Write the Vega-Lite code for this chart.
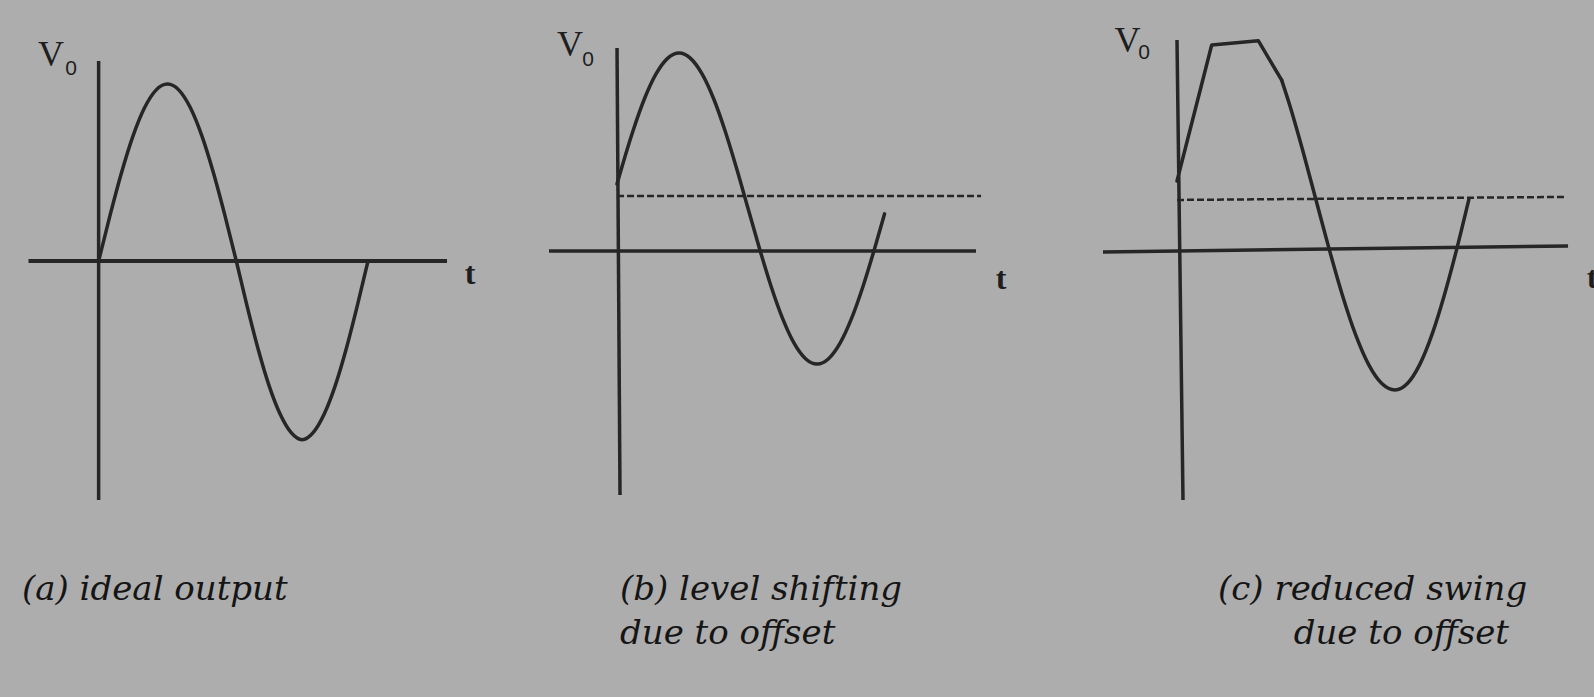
{
  "$schema": "https://vega.github.io/schema/vega-lite/v6.json",
  "background": "#adadad",
  "padding": {"left": 0, "top": 0, "right": 0, "bottom": 60},
  "bounds": "flush",
  "spacing": 0,
  "config": {
    "view": {"stroke": null},
    "line": {"color": "#262626", "strokeWidth": 3.5, "strokeCap": "round", "strokeJoin": "round"},
    "rule": {"color": "#262626", "strokeWidth": 3.5},
    "text": {"color": "#1e1e1e", "align": "center", "baseline": "middle"}
  },
  "datasets": {
    "ideal": [
      {"t": 0, "v": 0}, {"t": 15.33, "v": 0.259}, {"t": 30.67, "v": 0.5}, {"t": 46, "v": 0.707},
      {"t": 61.33, "v": 0.866}, {"t": 76.67, "v": 0.966}, {"t": 92, "v": 1.0}, {"t": 107.33, "v": 0.966},
      {"t": 122.67, "v": 0.866}, {"t": 138, "v": 0.707}, {"t": 153.33, "v": 0.5}, {"t": 168.67, "v": 0.259},
      {"t": 184, "v": 0}, {"t": 198.67, "v": -0.259}, {"t": 213.33, "v": -0.5}, {"t": 228, "v": -0.707},
      {"t": 242.67, "v": -0.866}, {"t": 257.33, "v": -0.97}, {"t": 272, "v": -1.01}, {"t": 286.67, "v": -0.97},
      {"t": 301.33, "v": -0.866}, {"t": 316, "v": -0.707}, {"t": 330.67, "v": -0.5}, {"t": 345.33, "v": -0.259},
      {"t": 360, "v": 0}
    ],
    "shifted": [
      {"t": 0, "v": 0.379}, {"t": 5.9, "v": 0.468}, {"t": 20.9, "v": 0.68}, {"t": 35.9, "v": 0.862},
      {"t": 50.9, "v": 1.001}, {"t": 65.9, "v": 1.089}, {"t": 80.9, "v": 1.119}, {"t": 95.9, "v": 1.089},
      {"t": 110.9, "v": 1.001}, {"t": 125.9, "v": 0.862}, {"t": 140.9, "v": 0.68}, {"t": 155.9, "v": 0.468},
      {"t": 170.9, "v": 0.24}, {"t": 185.9, "v": 0.013}, {"t": 200.9, "v": -0.199}, {"t": 215.9, "v": -0.381},
      {"t": 230.9, "v": -0.521}, {"t": 245.9, "v": -0.609}, {"t": 260.9, "v": -0.639}, {"t": 275.9, "v": -0.609},
      {"t": 290.9, "v": -0.521}, {"t": 305.9, "v": -0.381}, {"t": 320.9, "v": -0.199}, {"t": 335.9, "v": 0.013},
      {"t": 348.9, "v": 0.21}
    ],
    "reduced": [
      {"part": "clipped", "t": 0, "v": 0.39},
      {"part": "clipped", "t": 48.2, "v": 1.159},
      {"part": "clipped", "t": 112.9, "v": 1.183},
      {"part": "clipped", "t": 145.4, "v": 0.96},
      {"part": "swing", "t": 145.4, "v": 0.96},
      {"part": "swing", "t": 156.49, "v": 0.82},
      {"part": "swing", "t": 174.77, "v": 0.561},
      {"part": "swing", "t": 193.06, "v": 0.283},
      {"part": "swing", "t": 211.35, "v": 0.005},
      {"part": "swing", "t": 229.63, "v": -0.254},
      {"part": "swing", "t": 247.92, "v": -0.477},
      {"part": "swing", "t": 266.21, "v": -0.648},
      {"part": "swing", "t": 284.49, "v": -0.755},
      {"part": "swing", "t": 302.78, "v": -0.791},
      {"part": "swing", "t": 319.93, "v": -0.755},
      {"part": "swing", "t": 337.07, "v": -0.648},
      {"part": "swing", "t": 354.22, "v": -0.477},
      {"part": "swing", "t": 371.37, "v": -0.254},
      {"part": "swing", "t": 388.5, "v": 0.005},
      {"part": "swing", "t": 405.65, "v": 0.29}
    ]
  },
  "hconcat": [
    {
      "width": 530,
      "height": 560,
      "title": {"text": "(a) ideal output", "orient": "bottom", "anchor": "start", "baseline": "alphabetic", "offset": 40, "dx": 22, "font": "DejaVu Serif", "fontStyle": "italic", "fontWeight": "normal", "fontSize": 34, "lineHeight": 44, "color": "#151515"},
      "layer": [
        {
          "data": {"values": [{}]},
          "mark": {"type": "rule", "strokeWidth": 4},
          "encoding": {
            "x": {"datum": -93.7, "type": "quantitative", "scale": {"domain": [-131.8, 576.5], "nice": false, "zero": false}, "axis": null},
            "x2": {"datum": 465.6},
            "y": {"datum": 0, "type": "quantitative", "scale": {"domain": [-1.6902, 1.4754], "nice": false, "zero": false}, "axis": null}
          }
        },
        {
          "data": {"values": [{}]},
          "mark": {"type": "rule"},
          "encoding": {
            "x": {"datum": 0, "type": "quantitative", "scale": {"domain": [-131.8, 576.5], "nice": false, "zero": false}, "axis": null},
            "y": {"datum": 1.131, "type": "quantitative", "scale": {"domain": [-1.6902, 1.4754], "nice": false, "zero": false}, "axis": null},
            "y2": {"datum": -1.351}
          }
        },
        {
          "data": {"name": "ideal"},
          "mark": {"type": "line", "interpolate": "monotone"},
          "encoding": {
            "x": {"field": "t", "type": "quantitative", "scale": {"domain": [-131.8, 576.5], "nice": false, "zero": false}, "axis": null},
            "y": {"field": "v", "type": "quantitative", "scale": {"domain": [-1.6902, 1.4754], "nice": false, "zero": false}, "axis": null}
          }
        },
        {
          "data": {"values": [{}]},
          "mark": {"type": "text", "text": "V", "font": "Liberation Serif", "fontSize": 36},
          "encoding": {
            "x": {"datum": -63.6, "type": "quantitative", "scale": {"domain": [-131.8, 576.5], "nice": false, "zero": false}, "axis": null},
            "y": {"datum": 1.164, "type": "quantitative", "scale": {"domain": [-1.6902, 1.4754], "nice": false, "zero": false}, "axis": null}
          }
        },
        {
          "data": {"values": [{}]},
          "mark": {"type": "text", "text": "0", "font": "Liberation Sans", "fontSize": 21},
          "encoding": {
            "x": {"datum": -36.9, "type": "quantitative", "scale": {"domain": [-131.8, 576.5], "nice": false, "zero": false}, "axis": null},
            "y": {"datum": 1.085, "type": "quantitative", "scale": {"domain": [-1.6902, 1.4754], "nice": false, "zero": false}, "axis": null}
          }
        },
        {
          "data": {"values": [{}]},
          "mark": {"type": "text", "text": "t", "font": "Liberation Serif", "fontSize": 32, "fontWeight": "bold"},
          "encoding": {
            "x": {"datum": 496.3, "type": "quantitative", "scale": {"domain": [-131.8, 576.5], "nice": false, "zero": false}, "axis": null},
            "y": {"datum": -0.073, "type": "quantitative", "scale": {"domain": [-1.6902, 1.4754], "nice": false, "zero": false}, "axis": null}
          }
        }
      ]
    },
    {
      "width": 540,
      "height": 560,
      "title": {"text": ["(b) level shifting", "due to offset"], "orient": "bottom", "anchor": "start", "baseline": "alphabetic", "offset": 40, "dx": 90, "font": "DejaVu Serif", "fontStyle": "italic", "fontWeight": "normal", "fontSize": 34, "lineHeight": 44, "color": "#151515"},
      "layer": [
        {
          "data": {"values": [{}]},
          "mark": {"type": "rule"},
          "encoding": {
            "x": {"datum": -88.7, "type": "quantitative", "scale": {"domain": [-113.5, 590.8], "nice": false, "zero": false}, "axis": null},
            "x2": {"datum": 468.2},
            "y": {"datum": 0, "type": "quantitative", "scale": {"domain": [-1.7468, 1.4189], "nice": false, "zero": false}, "axis": null}
          }
        },
        {
          "data": {"values": [{}]},
          "mark": {"type": "rule"},
          "encoding": {
            "x": {"datum": 0, "type": "quantitative", "scale": {"domain": [-113.5, 590.8], "nice": false, "zero": false}, "axis": null},
            "x2": {"datum": 3.9},
            "y": {"datum": 1.148, "type": "quantitative", "scale": {"domain": [-1.7468, 1.4189], "nice": false, "zero": false}, "axis": null},
            "y2": {"datum": -1.379}
          }
        },
        {
          "data": {"values": [{}]},
          "mark": {"type": "rule", "strokeWidth": 2.5, "strokeDash": [7, 3]},
          "encoding": {
            "x": {"datum": 0, "type": "quantitative", "scale": {"domain": [-113.5, 590.8], "nice": false, "zero": false}, "axis": null},
            "x2": {"datum": 474.8},
            "y": {"datum": 0.311, "type": "quantitative", "scale": {"domain": [-1.7468, 1.4189], "nice": false, "zero": false}, "axis": null}
          }
        },
        {
          "data": {"name": "shifted"},
          "mark": {"type": "line", "interpolate": "monotone"},
          "encoding": {
            "x": {"field": "t", "type": "quantitative", "scale": {"domain": [-113.5, 590.8], "nice": false, "zero": false}, "axis": null},
            "y": {"field": "v", "type": "quantitative", "scale": {"domain": [-1.7468, 1.4189], "nice": false, "zero": false}, "axis": null}
          }
        },
        {
          "data": {"values": [{}]},
          "mark": {"type": "text", "text": "V", "font": "Liberation Serif", "fontSize": 36},
          "encoding": {
            "x": {"datum": -61.3, "type": "quantitative", "scale": {"domain": [-113.5, 590.8], "nice": false, "zero": false}, "axis": null},
            "y": {"datum": 1.165, "type": "quantitative", "scale": {"domain": [-1.7468, 1.4189], "nice": false, "zero": false}, "axis": null}
          }
        },
        {
          "data": {"values": [{}]},
          "mark": {"type": "text", "text": "0", "font": "Liberation Sans", "fontSize": 21},
          "encoding": {
            "x": {"datum": -37.8, "type": "quantitative", "scale": {"domain": [-113.5, 590.8], "nice": false, "zero": false}, "axis": null},
            "y": {"datum": 1.08, "type": "quantitative", "scale": {"domain": [-1.7468, 1.4189], "nice": false, "zero": false}, "axis": null}
          }
        },
        {
          "data": {"values": [{}]},
          "mark": {"type": "text", "text": "t", "font": "Liberation Serif", "fontSize": 32, "fontWeight": "bold"},
          "encoding": {
            "x": {"datum": 500.8, "type": "quantitative", "scale": {"domain": [-113.5, 590.8], "nice": false, "zero": false}, "axis": null},
            "y": {"datum": -0.158, "type": "quantitative", "scale": {"domain": [-1.7468, 1.4189], "nice": false, "zero": false}, "axis": null}
          }
        }
      ]
    },
    {
      "width": 524,
      "height": 560,
      "title": {"text": ["(c) reduced swing", "\u200b\u00a0\u00a0\u00a0\u00a0\u00a0\u00a0\u00a0due to offset"], "orient": "bottom", "anchor": "start", "baseline": "alphabetic", "offset": 40, "dx": 148, "font": "DejaVu Serif", "fontStyle": "italic", "fontWeight": "normal", "fontSize": 34, "lineHeight": 44, "color": "#151515"},
      "layer": [
        {
          "data": {"values": [{}]},
          "mark": {"type": "rule"},
          "encoding": {
            "x": {"datum": -102.8, "type": "quantitative", "scale": {"domain": [-148.61, 579.17], "nice": false, "zero": false}, "axis": null},
            "x2": {"datum": 543.1},
            "y": {"datum": -0.011, "type": "quantitative", "scale": {"domain": [-1.7524, 1.4132], "nice": false, "zero": false}, "axis": null},
            "y2": {"datum": 0.023}
          }
        },
        {
          "data": {"values": [{}]},
          "mark": {"type": "rule"},
          "encoding": {
            "x": {"datum": 0, "type": "quantitative", "scale": {"domain": [-148.61, 579.17], "nice": false, "zero": false}, "axis": null},
            "x2": {"datum": 8.33},
            "y": {"datum": 1.187, "type": "quantitative", "scale": {"domain": [-1.7524, 1.4132], "nice": false, "zero": false}, "axis": null},
            "y2": {"datum": -1.413}
          }
        },
        {
          "data": {"values": [{}]},
          "mark": {"type": "rule", "strokeWidth": 2.5, "strokeDash": [7, 3]},
          "encoding": {
            "x": {"datum": 0, "type": "quantitative", "scale": {"domain": [-148.61, 579.17], "nice": false, "zero": false}, "axis": null},
            "x2": {"datum": 541.7},
            "y": {"datum": 0.283, "type": "quantitative", "scale": {"domain": [-1.7524, 1.4132], "nice": false, "zero": false}, "axis": null},
            "y2": {"datum": 0.3}
          }
        },
        {
          "data": {"name": "reduced"},
          "transform": [{"filter": "datum.part === 'clipped'"}],
          "mark": {"type": "line", "interpolate": "linear"},
          "encoding": {
            "x": {"field": "t", "type": "quantitative", "scale": {"domain": [-148.61, 579.17], "nice": false, "zero": false}, "axis": null},
            "y": {"field": "v", "type": "quantitative", "scale": {"domain": [-1.7524, 1.4132], "nice": false, "zero": false}, "axis": null}
          }
        },
        {
          "data": {"name": "reduced"},
          "transform": [{"filter": "datum.part === 'swing'"}],
          "mark": {"type": "line", "interpolate": "monotone"},
          "encoding": {
            "x": {"field": "t", "type": "quantitative", "scale": {"domain": [-148.61, 579.17], "nice": false, "zero": false}, "axis": null},
            "y": {"field": "v", "type": "quantitative", "scale": {"domain": [-1.7524, 1.4132], "nice": false, "zero": false}, "axis": null}
          }
        },
        {
          "data": {"values": [{}]},
          "mark": {"type": "text", "text": "V", "font": "Liberation Serif", "fontSize": 36},
          "encoding": {
            "x": {"datum": -68.75, "type": "quantitative", "scale": {"domain": [-148.61, 579.17], "nice": false, "zero": false}, "axis": null},
            "y": {"datum": 1.179, "type": "quantitative", "scale": {"domain": [-1.7524, 1.4132], "nice": false, "zero": false}, "axis": null}
          }
        },
        {
          "data": {"values": [{}]},
          "mark": {"type": "text", "text": "0", "font": "Liberation Sans", "fontSize": 21},
          "encoding": {
            "x": {"datum": -45.8, "type": "quantitative", "scale": {"domain": [-148.61, 579.17], "nice": false, "zero": false}, "axis": null},
            "y": {"datum": 1.114, "type": "quantitative", "scale": {"domain": [-1.7524, 1.4132], "nice": false, "zero": false}, "axis": null}
          }
        },
        {
          "data": {"values": [{}]},
          "mark": {"type": "text", "text": "t", "font": "Liberation Serif", "fontSize": 32, "fontWeight": "bold"},
          "encoding": {
            "x": {"datum": 576.4, "type": "quantitative", "scale": {"domain": [-148.61, 579.17], "nice": false, "zero": false}, "axis": null},
            "y": {"datum": -0.158, "type": "quantitative", "scale": {"domain": [-1.7524, 1.4132], "nice": false, "zero": false}, "axis": null}
          }
        }
      ]
    }
  ]
}
